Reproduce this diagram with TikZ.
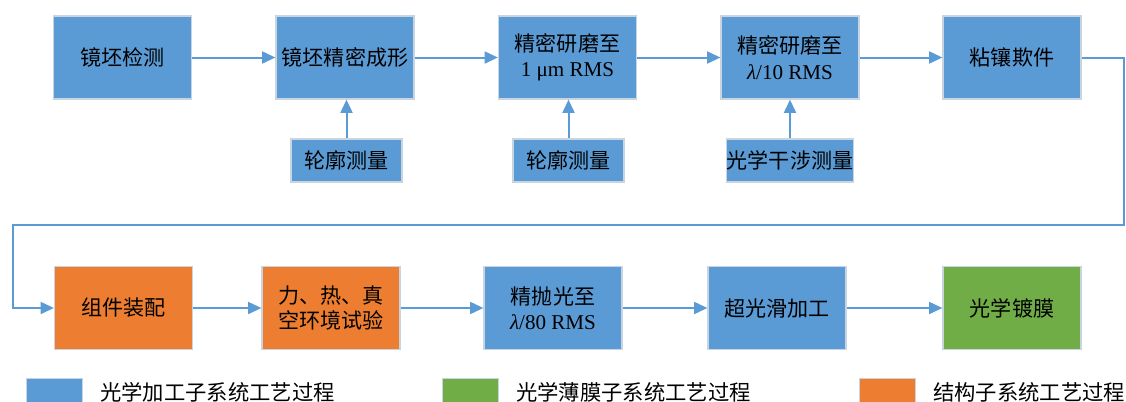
\documentclass[tikz,border=0pt]{standalone}
\usepackage{fontspec}
\setmainfont{Liberation Serif}
\newfontfamily\cjk{Noto Sans CJK SC}
\usetikzlibrary{arrows.meta,calc}
\definecolor{pblue}{HTML}{5B9BD5}
\definecolor{porange}{HTML}{ED7D31}
\definecolor{pgreen}{HTML}{70AD47}
\definecolor{pedge}{HTML}{C8D4E0}
\definecolor{pline}{HTML}{5B9BD5}
\tikzset{
  base/.style={draw=pedge, line width=0.9pt, align=center, text=black,
    font=\fontsize{15.8}{19}\selectfont, inner sep=0pt},
  mainbox/.style={base, minimum width=103.5pt, minimum height=62.25pt},
  subbox/.style={base, fill=pblue, minimum width=83.25pt, minimum height=32.25pt},
  bluebox/.style={mainbox, fill=pblue},
  orangebox/.style={mainbox, fill=porange},
  greenbox/.style={mainbox, fill=pgreen},
  conn/.style={draw=pline, line width=1.5pt, -{Triangle[length=10pt,width=9pt]}},
  legbox/.style={draw=pedge, line width=0.9pt, minimum width=42pt, minimum height=24pt, inner sep=0pt},
  legtext/.style={anchor=west, inner sep=0pt, font=\fontsize{16}{19}\selectfont\cjk}
}
\begin{document}
\begin{tikzpicture}[x=0.75pt, y=-0.75pt]
\useasboundingbox (0,0) rectangle (1126,401);
% row 1
\node[bluebox] (a1) at (122.5,57.5) {\cjk 镜坯检测};
\node[bluebox] (a2) at (345,57.5) {\cjk 镜坯精密成形};
\node[bluebox] (a3) at (567.5,57.5) {{\cjk 精密研磨至}\\1 μm RMS};
\node[bluebox] (a4) at (790,57.5) {{\cjk 精密研磨至}\\\textit{λ}/10 RMS};
\node[bluebox] (a5) at (1012,57.5) {\cjk 粘镶欺件};
% sub boxes
\node[subbox] (s2) at (346.5,160.5) {\cjk 轮廓测量};
\node[subbox] (s3) at (568.5,160.5) {\cjk 轮廓测量};
\node[subbox] (s4) at (790,160.5) {\cjk 光学干涉测量};
% row 2
\node[orangebox] (b1) at (123.5,308) {\cjk 组件装配};
\node[orangebox] (b2) at (331,308) {\cjk 力、热、真\\\cjk 空环境试验};
\node[bluebox] (b3) at (553,308) {{\cjk 精抛光至}\\\textit{λ}/80 RMS};
\node[bluebox] (b4) at (777,308) {\cjk 超光滑加工};
\node[greenbox] (b5) at (1012,308) {\cjk 光学镀膜};
% connectors row 1
\draw[conn] (a1) -- (a2);
\draw[conn] (a2) -- (a3);
\draw[conn] (a3) -- (a4);
\draw[conn] (a4) -- (a5);
\draw[conn] (s2) -- (s2|-a2.south);
\draw[conn] (s3) -- (s3|-a3.south);
\draw[conn] (s4) -- (s4|-a4.south);
% wrap
\coordinate (w1) at (1124,57.5);
\coordinate (w2) at (1124,225);
\coordinate (w3) at (13,225);
\coordinate (w4) at (13,308);
\draw[conn] (a5.east) -- (w1) -- (w2) -- (w3) -- (w4) -- (b1.west);
% row 2
\draw[conn] (b1) -- (b2);
\draw[conn] (b2) -- (b3);
\draw[conn] (b3) -- (b4);
\draw[conn] (b4) -- (b5);
% legend
\node[legbox, fill=pblue, anchor=north west] (l1) at (26,378) {};
\node[legtext] (t1) at (100,392) {光学加工子系统工艺过程};
\node[legbox, fill=pgreen, anchor=north west] (l2) at (442,378) {};
\node[legtext] (t2) at (516,392) {光学薄膜子系统工艺过程};
\node[legbox, fill=porange, anchor=north west] (l3) at (859,378) {};
\node[legtext] (t3) at (933,392) {结构子系统工艺过程};
\end{tikzpicture}
\end{document}
